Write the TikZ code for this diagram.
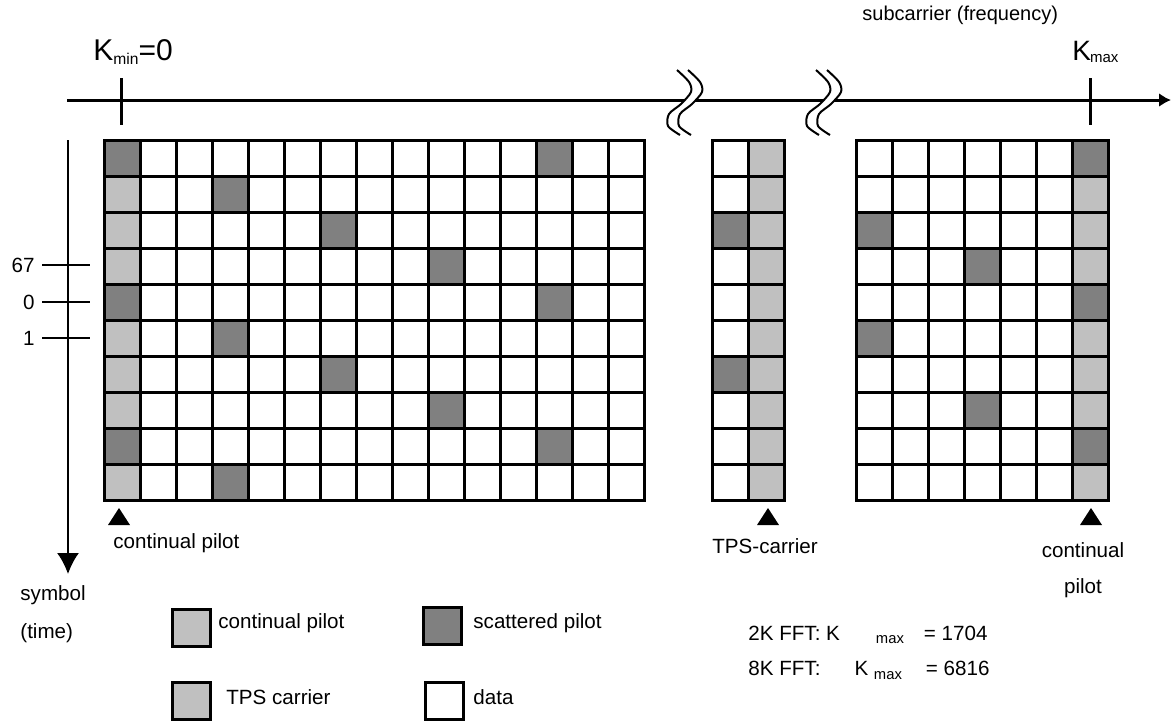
\documentclass[tikz,border=0pt]{standalone}
\usepackage{fontspec}
\setmainfont{Liberation Sans}
\usepackage{tikz}
\usetikzlibrary{arrows.meta,positioning}
\definecolor{contgray}{RGB}{192,192,192}
\definecolor{scatgray}{RGB}{128,128,128}

\begin{document}
\begin{tikzpicture}[x=0.5pt,y=-0.5pt]

		\tikzset{
		    cell/.style={draw=black, line width=1.5pt},
		    lbl/.style={font=\fontsize{10.3}{12}\selectfont, inner sep=0pt},
		    legbox/.style={draw=black, line width=1.5pt, minimum width=19pt, minimum height=18.5pt, inner sep=0pt},
		    squig/.style={line width=1pt}
		}

		\useasboundingbox (0,0) rectangle (1172,720);

		% frequency axis

		\coordinate (fstart) at (67,100);
		\coordinate (fend) at (1171,100);
		\draw[line width=1.5pt, -{Latex[length=6pt,width=7pt]}] (fstart) -- (fend);
		\draw[line width=1.5pt] (121,78) -- (121,125);
		\draw[line width=1.5pt] (1090,78) -- (1090,125);

		% breaks in the axis
		\foreach \bx in {685,824}{
			\fill[white] plot[smooth] coordinates {({\bx-8},70) ({\bx+4},82) ({\bx+6},92) ({\bx-4},104) ({\bx-16},114) ({\bx-17},126) ({\bx-5},135)}
				-- plot[smooth] coordinates {({\bx+6},135) ({\bx-6},126) ({\bx-5},114) ({\bx+7},104) ({\bx+17},92) ({\bx+15},82) ({\bx+3},70)} -- cycle;
			\draw[squig] plot[smooth] coordinates {({\bx-8},70) ({\bx+4},82) ({\bx+6},92) ({\bx-4},104) ({\bx-16},114) ({\bx-17},126) ({\bx-5},135)};
			\draw[squig] plot[smooth] coordinates {({\bx+3},70) ({\bx+15},82) ({\bx+17},92) ({\bx+7},104) ({\bx-5},114) ({\bx-6},126) ({\bx+6},135)};
		}

		\node[anchor=base west, inner sep=0pt] (kmin) at (93,60)
			{\fontsize{15}{18}\selectfont K\raisebox{-2pt}{\fontsize{7.8}{9}\selectfont min}=0};
		\node[anchor=base west, inner sep=0pt] (kmax) at (1072,60)
			{\fontsize{14}{18}\selectfont K\kern-0.5pt\raisebox{-1pt}{\fontsize{7.5}{9}\selectfont max}};
		\node[lbl, anchor=base west, font=\fontsize{10}{12}\selectfont] (freq) at (862,20) {subcarrier (frequency)};

		% time axis

		\coordinate (tstart) at (68,140);
		\coordinate (tend) at (68,574);
		\draw[line width=1pt, -{Latex[length=10.5pt,width=11pt]}] (tstart) -- (tend);
		\foreach \ty/\tl in {265/67,302/0,338/1}{
			\draw[line width=1.3pt] (42,\ty) -- (90,\ty);
			\node[lbl, anchor=east] (tick\tl) at (35,\ty) {\tl};
		}
		\node[lbl, anchor=west, align=left, font=\fontsize{10.3}{19}\selectfont] (symtime) at (20,614) {symbol\\(time)};

		% left block of cells

		\begin{scope}[shift={(104,140)}, x=18pt, y=-18pt]
			\fill[contgray] (0,0) rectangle (1,10);
			\foreach \c/\r in {0/0,12/0,3/1,6/2,9/3,0/4,12/4,3/5,6/6,9/7,0/8,12/8,3/9}
				\fill[scatgray] (\c,\r) rectangle +(1,1);
			\foreach \i in {1,...,14}
				\draw[cell] (\i,0) -- (\i,10);
			\foreach \j in {1,...,9}
				\draw[cell] (0,\j) -- (15,\j);
			\draw[cell] (0,0) rectangle (15,10);
		\end{scope}

		% TPS block

		\begin{scope}[shift={(712,140)}, x=18pt, y=-18pt]
			\fill[contgray] (1,0) rectangle (2,10);
			\foreach \c/\r in {0/2,0/6}
				\fill[scatgray] (\c,\r) rectangle +(1,1);
			\draw[cell] (1,0) -- (1,10);
			\foreach \j in {1,...,9}
				\draw[cell] (0,\j) -- (2,\j);
			\draw[cell] (0,0) rectangle (2,10);
		\end{scope}

		% right block of cells

		\begin{scope}[shift={(856,140)}, x=18pt, y=-18pt]
			\fill[contgray] (6,0) rectangle (7,10);
			\foreach \c/\r in {6/0,0/2,3/3,6/4,0/5,3/7,6/8}
				\fill[scatgray] (\c,\r) rectangle +(1,1);
			\foreach \i in {1,...,6}
				\draw[cell] (\i,0) -- (\i,10);
			\foreach \j in {1,...,9}
				\draw[cell] (0,\j) -- (7,\j);
			\draw[cell] (0,0) rectangle (7,10);
		\end{scope}

		% markings and text

		\foreach \mx in {119,768,1091}
			\fill (\mx,508) -- ({\mx-11},525) -- ({\mx+11},525) -- cycle;

		\node[lbl, anchor=west] (contleft) at (113,543) {continual pilot};
		\node[lbl, anchor=west] (tpsc) at (712,546) {TPS-carrier};
		\node[lbl, align=center, font=\fontsize{10.3}{18}\selectfont] (contright) at (1083,570) {continual\\pilot};

		% legend

		\node[legbox, fill=contgray] (legcont) at (191,628) {};
		\node[legbox, fill=contgray] (legtps) at (191,701) {};
		\node[legbox, fill=scatgray] (legscat) at (442,626) {};
		\node[legbox, fill=white] (legdata) at (444,701) {};
		\node[lbl, anchor=west] (txtcont) at (218,623) {continual pilot};
		\node[lbl, anchor=west] (txttps) at (226,697) {TPS carrier};
		\node[lbl, anchor=west] (txtscat) at (473,623) {scattered pilot};
		\node[lbl, anchor=west] (txtdata) at (473,697) {data};

		% FFT sizes

		\node[lbl, anchor=base west] (fft2k) at (748,640)
			{2K FFT: K\hspace{18pt}\raisebox{-1.5pt}{\fontsize{7.4}{9}\selectfont max}\hspace{10pt}= 1704};
		\node[lbl, anchor=base west] (fft8k) at (748,675)
			{8K FFT:\hspace{17pt}K \raisebox{-2pt}{\fontsize{7.4}{9}\selectfont max}\hspace{12pt}= 6816};

\end{tikzpicture}
\end{document}
